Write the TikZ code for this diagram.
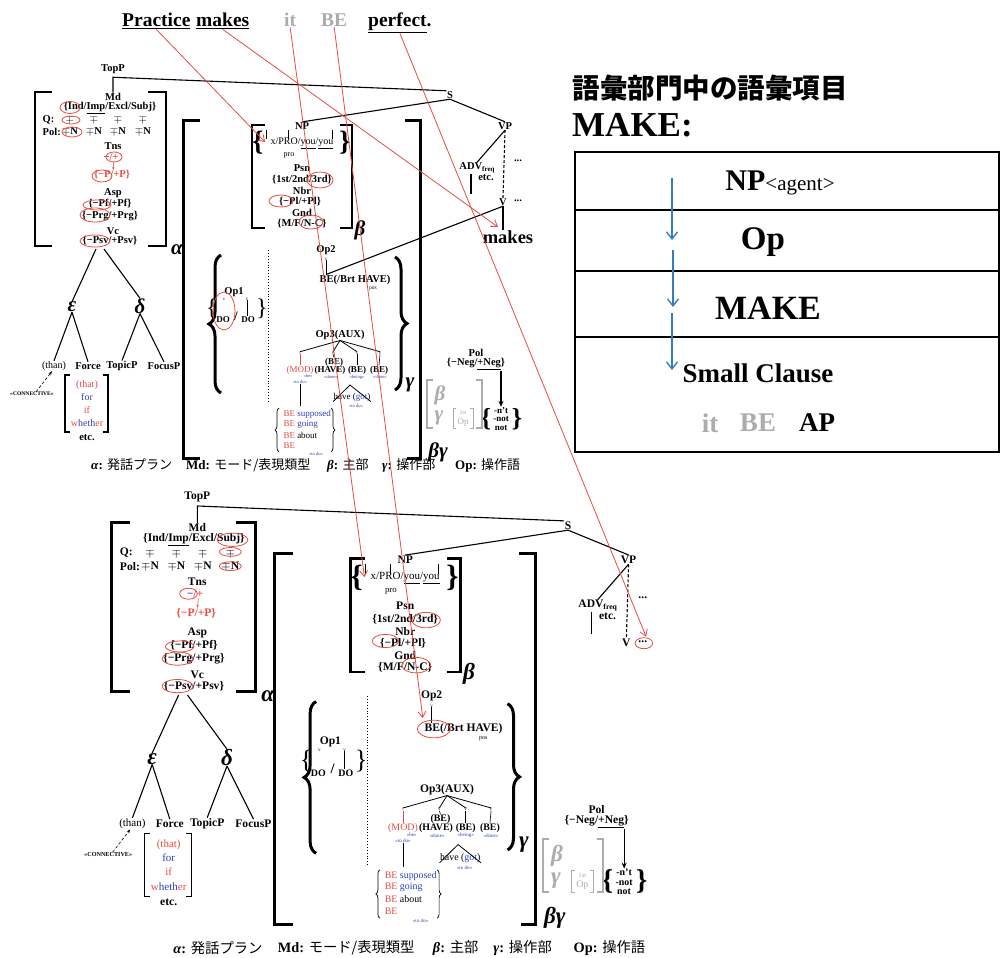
\documentclass[tikz,border=0pt]{standalone}
\usepackage{fontspec}
\setmainfont{Liberation Serif}
\newfontfamily\jpfont{Noto Sans CJK JP}
\usetikzlibrary{arrows.meta, decorations.pathreplacing, calc}

\definecolor{mkred}{RGB}{232,76,66}
\definecolor{mkblue}{RGB}{45,65,190}
\definecolor{arrblue}{RGB}{55,125,190}
\definecolor{mkgray}{RGB}{172,172,172}

\tikzset{
  tr/.style={font=\bfseries\fontsize{10.5}{11}\selectfont, inner sep=0.5pt},
  trn/.style={font=\fontsize{10}{10.5}\selectfont, inner sep=0.5pt},
  sml/.style={font=\bfseries\fontsize{9}{9.5}\selectfont, inner sep=0.3pt},
  mini/.style={font=\fontsize{4.6}{5}\selectfont, inner sep=0pt, text=mkblue},
  grk/.style={font=\bfseries\itshape\fontsize{21}{21}\selectfont, inner sep=0pt},
  word/.style={font=\bfseries\fontsize{19.5}{20}\selectfont, inner sep=0pt},
  capt/.style={font=\fontsize{13}{13}\selectfont, inner sep=0pt, anchor=west},
  tl/.style={line width=1.1pt},
  brk/.style={line width=2.6pt},
  hit/.style={draw=mkred, line width=0.8pt},
  redarr/.style={draw=mkred, line width=0.8pt, -{Straight Barb[length=6pt,width=8pt]}},
  barr/.style={draw=arrblue, line width=1.4pt, -{Straight Barb[length=7pt,width=11pt]}},
  bigbrace/.style={decorate, decoration={brace, amplitude=12pt}, line width=3pt},
  thinbrace/.style={decorate, decoration={brace, amplitude=4pt}, line width=0.7pt}
}

% one copy of the clause tree (drawn twice)
\newcommand{\clausetree}{%
  % mode block
  \node[tr] (topp) at (113,69) {TopP};
  \node[tr] (md) at (113,97) {Md};
  \node[tr] (mdv) at (110,108) {\{Ind/\underline{Imp}/Excl/Subj\}};
  \node[tr, anchor=west] (q) at (42,120) {Q:};
  \node[tr, anchor=west] (pol) at (42,132) {Pol:};
  \foreach \x [count=\i] in {70,94,118,143} {
    \node[tr] (q\i) at (\x,120) {$\mp$};
    \node[tr] (p\i) at (\x,132) {$\mp$N};
  }
  \node[tr] (tns) at (113,146) {Tns};
  \node[tr] (tnsv) at (111,157) {\textcolor{mkblue}{−}\textcolor{mkred}{/+}};
  \node[tr, text=mkred] (tnsp) at (112,175) {\{−P/+P\}};
  \draw[mkred, line width=0.6pt, -{Stealth[length=3pt]}] ([xshift=3pt]tnsv.south) -- ([xshift=1pt]tnsp.north);
  \node[tr] (asp) at (113,193) {Asp};
  \node[tr] (aspf) at (110,204) {\{−Pf/+Pf\}};
  \node[tr] (aspg) at (110,216) {\{−Prg/+Prg\}};
  \node[tr] (vc) at (113,231) {Vc};
  \node[tr] (vcv) at (110,241) {\{−Psv/+Psv\}};
  \draw[brk] (52,92) -- (35,92) -- (35,246) -- (52,246);
  \draw[brk] (148,92) -- (166,92) -- (166,246) -- (148,246);
  \node[grk] (alp) at (177,250) {α};
  % lower tree
  \node[grk] (eps) at (72,307) {ε};
  \node[grk] (del) at (140,306) {δ};
  \draw[tl] ([xshift=-14pt,yshift=-3pt]vcv.south) -- (eps.north);
  \draw[tl] ([xshift=-6pt,yshift=-3pt]vcv.south) -- (del.north);
  \node[trn] (than) at (54,366) {(than)};
  \node[tr] (force) at (88,366) {Force};
  \node[tr] (topic) at (122,366) {TopicP};
  \node[tr] (focus) at (164,366) {FocusP};
  \draw[tl] (eps.south) -- (than.north);
  \draw[tl] (eps.south) -- (force.north);
  \draw[tl] (del.south) -- (topic.north);
  \draw[tl] (del.south) -- (focus.north);
  \node[font=\bfseries\fontsize{5.6}{6}\selectfont, inner sep=0pt] (conn) at (32,394) {«CONNECTIVE»};
  \draw[densely dashed, line width=0.6pt, -{Stealth[length=4pt]}] ([xshift=4pt]conn.north) -- ([xshift=-2pt]than.south);
  \draw[line width=1.3pt] (70,375) -- (65,375) -- (65,432) -- (70,432);
  \draw[line width=1.3pt] (103,375) -- (108,375) -- (108,432) -- (103,432);
  \node[trn, text=mkred] (that) at (87,385) {(that)};
  \node[trn, text=mkblue] (for) at (87,397) {for};
  \node[trn, text=mkred] (if) at (87,410) {if};
  \node[trn] (whet) at (87,423) {\textcolor{mkred}{w}\textcolor{mkblue}{heth}\textcolor{mkred}{er}};
  \node[tr] (etc) at (87,438) {etc.};
  % subject and operator block
  \draw[brk, line width=3pt] (200,120) -- (183,120) -- (183,458) -- (200,458);
  \draw[brk, line width=3pt] (405,120) -- (420,120) -- (420,458) -- (407,458);
  \node[grk] (bg) at (438,452) {βγ};
  \node[tr] (s) at (450,95) {S};
  \node[tr] (np) at (302,126) {NP};
  \node[tr] (vp) at (505,126) {VP};
  \draw[tl] (md.north) -- ([yshift=-3pt]md.north |- topp.south) -- (s.north west);
  \draw[tl] (np.north) -- (s.south) -- (vp.north);
  \draw[brk] (265,125) -- (252,125) -- (252,228) -- (265,228);
  \draw[brk] (340,125) -- (352,125) -- (352,228) -- (340,228);
  \node[grk] (bet) at (360,230) {β};
  \node[trn] (xpro) at (302,143) {x/PRO/\underline{you}/\underline{you}};
  \node[font=\fontsize{8}{8}\selectfont, inner sep=0pt] (pro) at (289,155) {pro};
  \node[font=\bfseries\fontsize{28}{28}\selectfont, inner sep=0pt] (xl) at (258,143) {\{};
  \node[font=\bfseries\fontsize{28}{28}\selectfont, inner sep=0pt] (xr) at (345,143) {\}};
  \draw[line width=0.6pt] (266,130) -- (266,139) (288,130) -- (288,139) (332,130) -- (332,139);
  \coordinate (xhit) at (265,142);
  \node[tr] (psn) at (302,168) {Psn};
  \node[tr] (psnv) at (302,180) {\{1st/2nd/3rd\}};
  \node[tr] (nbr) at (302,191) {Nbr};
  \node[tr] (nbrv) at (300,202) {\{−Pl/+Pl\}};
  \node[tr] (gnd) at (302,213) {Gnd};
  \node[tr] (gndv) at (302,224) {\{M/F/N-C\}};
  % gamma
  \draw[bigbrace] (221,393) -- (221,255);
  \draw[bigbrace] (395,257) -- (395,390);
  \node[grk] (gam) at (410,385) {γ};
  \node[tr] (op1) at (234,292) {Op1};
  \node[font=\fontsize{24}{24}\selectfont, inner sep=0pt] (op1l) at (212,309) {\{};
  \node[font=\fontsize{24}{24}\selectfont, inner sep=0pt] (op1r) at (262,309) {\}};
  \node[mini, text=black] (op1va) at (224,299) {v};
  \node[mini, text=black] (op1vb) at (247,299) {v};
  \node[sml] (doa) at (223,320) {DO};
  \node[sml] (dob) at (248,320) {DO};
  \node[font=\bfseries\fontsize{13}{13}\selectfont, inner sep=0pt] (dosl) at (236,316) {/};
  \draw[line width=0.6pt] (op1vb.south) -- (op1vb.south |- dob.north);
  \draw[dotted, line width=0.9pt] (268,250) -- (268,403);
  \node[tr] (op2) at (326,250) {Op2};
  \node[mini, text=black] (op2v) at (326,259) {v};
  \node[tr] (be) at (355,280) {BE(/Brt HAVE)};
  \node[font=\fontsize{5.5}{6}\selectfont, inner sep=0pt] (pos) at (373,289) {pos};
  \draw[line width=0.8pt] (op2v.south) -- (op2v.south |- be.north);
  \coordinate (behit) at (318,270);
  \node[tr] (op3) at (340,335) {Op3(AUX)};
  \node[mini, text=mkred] (m1) at (300,353) {v};
  \node[mini, text=black] (m2) at (333,353) {v};
  \node[mini, text=black] (m3) at (357,353) {v};
  \node[mini, text=black] (m4) at (380,353) {v};
  \foreach \i in {1,...,4} {\draw[line width=0.8pt] (op3.south) -- (m\i.north);}
  \node[font=\fontsize{9}{9}\selectfont, inner sep=0.3pt, text=mkred] (mod) at (300,370) {(MOD)};
  \node[sml] (hbe) at (334,362) {(BE)};
  \node[sml] (have) at (330,370) {(HAVE)};
  \node[sml] (bea) at (357,370) {(BE)};
  \node[sml] (beb) at (379,370) {(BE)};
  \draw[mkred, line width=0.6pt] (m1.south) -- (mod.north);
  \draw[line width=0.6pt] (m2.south) -- (hbe.north);
  \draw[line width=0.6pt] (m3.south) -- (bea.north);
  \draw[line width=0.6pt] (m4.south) -- (beb.north);
  \node[mini] (mbe) at (308,376) {«be»};
  \node[mini] (mtd) at (300,382) {«to do»};
  \node[mini] (hdone) at (331,377) {«done»};
  \node[mini] (being) at (357,377) {«being»};
  \node[mini] (bdone) at (380,377) {«done»};
  \node[font=\fontsize{9}{9}\selectfont, inner sep=0.3pt] (hg) at (352,397) {have (\textcolor{mkblue}{got})};
  \node[mini] (hgtd) at (356,406) {«to do»};
  \coordinate (hapex) at (350,385);
  \draw[line width=0.8pt] (hg.south west) -- (hapex) -- (hg.south east);
  \draw[line width=0.8pt] (mtd.south) -- ++(0,22);
  \draw[thinbrace] (279,452) -- (279,408);
  \draw[thinbrace] (331,408) -- (331,452);
  \node[font=\fontsize{9}{9}\selectfont, inner sep=0.3pt, anchor=west] (bs1) at (283,414) {\textcolor{mkred}{BE} \textcolor{mkblue}{supposed}};
  \node[font=\fontsize{9}{9}\selectfont, inner sep=0.3pt, anchor=west] (bs2) at (283,424) {\textcolor{mkred}{BE} \textcolor{mkblue}{going}};
  \node[font=\fontsize{9}{9}\selectfont, inner sep=0.3pt, anchor=west] (bs3) at (283,435) {\textcolor{mkred}{BE} about};
  \node[font=\fontsize{9}{9}\selectfont, inner sep=0.3pt, anchor=west] (bs4) at (283,446) {\textcolor{mkred}{BE}};
  \node[mini] (bstd) at (316,454) {«to do»};
  % polarity
  \node[tr] (polh) at (476,353) {Pol};
  \node[tr] (polv) at (476,364) {\{−Neg/\underline{+Neg}\}};
  \node[sml, align=center, font=\bfseries\fontsize{9}{8.6}\selectfont] (negs) at (501,419) {-n't\\-not\\not};
  \node[font=\bfseries\fontsize{26}{26}\selectfont, inner sep=0pt] (negl) at (486,419) {\{};
  \node[font=\bfseries\fontsize{26}{26}\selectfont, inner sep=0pt] (negr) at (517,419) {\}};
  \draw[line width=1.2pt, -{Stealth[length=6pt,width=5pt]}] (negs.north |- polv.south) -- (negs.north);
  \draw[mkgray, line width=2pt] (433,380) -- (427,380) -- (427,428) -- (433,428);
  \draw[mkgray, line width=2pt] (476,380) -- (482,380) -- (482,428) -- (476,428);
  \node[grk, text=mkgray] (gb) at (440,395) {β};
  \node[grk, text=mkgray] (gg) at (439,418) {γ};
  \node[font=\fontsize{6}{6}\selectfont, text=mkgray, inner sep=0pt] (gst) at (463,413) {1st};
  \node[font=\fontsize{9}{9}\selectfont, text=mkgray, inner sep=0pt] (gop) at (463,422) {Op};
  \draw[mkgray, line width=0.6pt] (456,408) -- (453,408) -- (453,428) -- (456,428);
  \draw[mkgray, line width=0.6pt] (470,408) -- (473,408) -- (473,428) -- (470,428);
  % verb phrase
  \node[tr] (adv) at (477,168) {ADV\raisebox{-1.5pt}{\fontsize{7}{7}\selectfont freq}};
  \node[tr] (advetc) at (486,178) {etc.};
  \draw[tl] (vp.south) -- (adv.north);
  \draw[tl] ([xshift=-6pt]adv.south) -- ++(0,20);
  \node[tr] (v) at (503,202) {V};
  \node[tr] (vdots) at (518,201) {...};
  \node[tr] (vpdots) at (518,161) {...};
  \draw[tl, densely dashed] (vp.south) -- (v.north);
  \coordinate (vhit) at (521,196);
}

\newcommand{\clausecap}[1]{%
  \node[capt] (capa) at (91,#1) {\textbf{\textit{α}:} {\jpfont 発話プラン}};
  \node[capt] (capm) at (186,#1) {\textbf{Md:} {\jpfont モード/表現類型}};
  \node[capt] (capb) at (327,#1) {\textbf{\textit{β}:} {\jpfont 主部}};
  \node[capt] (capg) at (382,#1) {\textbf{\textit{γ}:} {\jpfont 操作部}};
  \node[capt] (capo) at (455,#1) {\textbf{Op:} {\jpfont 操作語}};
}

\begin{document}
\begin{tikzpicture}[x=1pt, y=-1pt]
  \useasboundingbox (0,0) rectangle (1002,958);
  % sentence
  \node[word, anchor=base west] (prac) at (122,27) {\underline{Practice}};
  \node[word, anchor=base west] (mak) at (196,27) {\underline{makes}};
  \node[word, anchor=base west, text=mkgray] (itw) at (284,27) {it};
  \node[word, anchor=base west, text=mkgray] (bew) at (321,27) {BE};
  \node[word, anchor=base west] (perf) at (368,27) {\underline{perfect}.};

  % upper tree
  \begin{scope}[name prefix=up-]
    \clausetree
    \clausecap{465}
    \node[font=\bfseries\fontsize{18.5}{19}\selectfont, inner sep=0pt] (makes) at (508,237) {makes};
    \draw[tl] (v.south) -- (v.south |- makes.north);
    \draw[tl] (v.south) -- (op2v.south |- be.north);
    \coordinate (mhit) at (498,227);
    \draw[hit] (70,107.5) ellipse [x radius=10pt, y radius=6pt];
    \draw[hit] (71,120) ellipse [x radius=9pt, y radius=4pt];
    \draw[hit] (72,132) ellipse [x radius=10pt, y radius=5pt];
    \draw[hit] (114,157) ellipse [x radius=8pt, y radius=5pt];
    \draw[hit] (102,176) ellipse [x radius=10pt, y radius=6pt];
    \draw[hit] (97,205) ellipse [x radius=14pt, y radius=5pt];
    \draw[hit] (95,215) ellipse [x radius=15pt, y radius=7pt];
    \draw[hit] (95,241) ellipse [x radius=15pt, y radius=6pt];
    \draw[hit] (320,180) ellipse [x radius=13pt, y radius=8pt];
    \draw[hit] (281,201) ellipse [x radius=12pt, y radius=6pt];
    \draw[hit] (311,222) ellipse [x radius=12pt, y radius=7pt];
    \draw[hit] (224,311) ellipse [x radius=11pt, y radius=19pt];
  \end{scope}

  % lower tree
  \begin{scope}[name prefix=lo-, shift={(73,421)}, scale=1.1, transform shape]
    \clausetree
    \clausecap{479}
    \draw[hit] (145,108) ellipse [x radius=14pt, y radius=6pt];
    \draw[hit] (143,119) ellipse [x radius=10pt, y radius=4pt];
    \draw[hit] (143,132) ellipse [x radius=10pt, y radius=4pt];
    \draw[hit] (105,157) ellipse [x radius=8pt, y radius=5pt];
    \draw[hit] (97,205) ellipse [x radius=13pt, y radius=5pt];
    \draw[hit] (95,216) ellipse [x radius=14pt, y radius=6pt];
    \draw[hit] (95,241) ellipse [x radius=14pt, y radius=6pt];
    \draw[hit] (321,181) ellipse [x radius=13pt, y radius=7pt];
    \draw[hit] (284,200) ellipse [x radius=12pt, y radius=6pt];
    \draw[hit] (312,222) ellipse [x radius=13pt, y radius=7pt];
    \draw[hit] (328,280) ellipse [x radius=15pt, y radius=8pt];
    \draw[hit] (519,202) ellipse [x radius=8pt, y radius=5pt];
  \end{scope}

  % lexicon panel
  \node[font=\jpfont\bfseries\fontsize{27.5}{28}\selectfont, inner sep=0pt] (ttl) at (710,88) {語彙部門中の語彙項目};
  \node[font=\bfseries\fontsize{35}{35}\selectfont, inner sep=0pt, anchor=base west] (mk) at (572,136) {MAKE:};
  \draw[line width=1.2pt] (575,152) rectangle (999,452);
  \draw[line width=1.2pt] (575,210) -- (999,210) (575,271) -- (999,271) (575,337) -- (999,337);
  \node[font=\bfseries\fontsize{30}{30}\selectfont, inner sep=0pt] (pnp) at (780,183) {NP{\mdseries\fontsize{21}{21}\selectfont<agent>}};
  \node[font=\bfseries\fontsize{33}{33}\selectfont, inner sep=0pt] (pop) at (763,242) {Op};
  \node[font=\bfseries\fontsize{34}{34}\selectfont, inner sep=0pt] (pmk) at (768,308) {MAKE};
  \node[font=\bfseries\fontsize{27}{27}\selectfont, inner sep=0pt] (psc) at (758,373) {Small Clause};
  \node[font=\bfseries\fontsize{27}{27}\selectfont, inner sep=0pt, text=mkgray] (pit) at (710,423) {it};
  \node[font=\bfseries\fontsize{27}{27}\selectfont, inner sep=0pt, text=mkgray] (pbe) at (758,423) {BE};
  \node[font=\bfseries\fontsize{27}{27}\selectfont, inner sep=0pt] (pap) at (817,423) {AP};
  \coordinate (a0) at (672,178);
  \coordinate (a1) at (672,240);
  \coordinate (a2) at (673,250);
  \coordinate (a3) at (673,307);
  \coordinate (a4) at (672,313);
  \coordinate (a5) at (672,370);
  \draw[barr] (a0) -- (a1);
  \draw[barr] (a2) -- (a3);
  \draw[barr] (a4) -- (a5);

  % links from the sentence
  \draw[redarr] (prac.south) -- (up-xhit);
  \draw[redarr] (mak.south) -- (up-mhit);
  \draw[redarr] (itw.south) -- (lo-xhit);
  \draw[redarr] (bew.south) -- (lo-behit);
  \draw[redarr] (perf.south) -- (lo-vhit);
\end{tikzpicture}
\end{document}
